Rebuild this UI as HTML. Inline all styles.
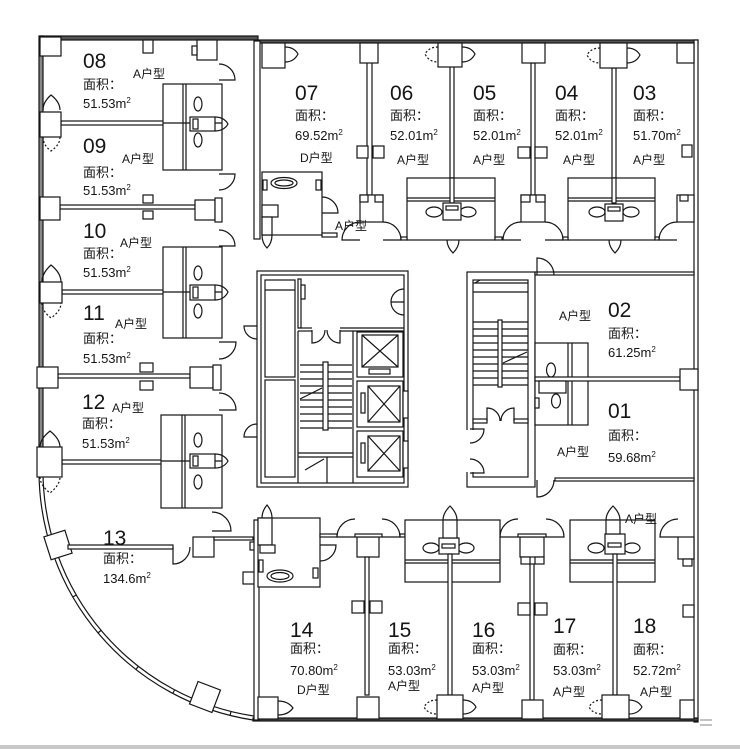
<!DOCTYPE html>
<html><head><meta charset="utf-8">
<style>
html,body{margin:0;padding:0;background:#fff;}
svg{display:block;}
text{font-family:"Liberation Sans","Noto Sans CJK SC",sans-serif;fill:#151515;}
.n{font-size:21px;}
.c{font-size:13px;}
.t{font-size:12px;}
</style></head><body>
<svg width="740" height="749" viewBox="0 0 740 749" xmlns="http://www.w3.org/2000/svg">
<rect width="740" height="749" fill="#fff"/>
<rect x="0" y="745" width="740" height="4" fill="#c8c8c8"/>

<g stroke="#151515" stroke-width="1.2" fill="#fff">
<!-- exterior walls -->
<rect x="40" y="36" width="218" height="4" fill="#555"/>
<rect x="255" y="40" width="443" height="3" fill="#555"/>
<rect x="39" y="36" width="4" height="435" fill="#888"/>
<rect x="694" y="40" width="4" height="682"/>
<rect x="253" y="718" width="445" height="3" fill="#444"/>
<path d="M39 471 A252 252 0 0 0 253 720" fill="none"/>
<path d="M43 471 A248 248 0 0 0 253.6 716" fill="none"/>
<path d="M72.8 597 L76.2 595 M97.9 633 L101 630.4 M135.8 669.6 L138.3 666.4 M172.7 693.5 L174.6 690 M230 715.5 L231 711.6" fill="none"/>
<rect x="-11" y="-12" width="22" height="24" transform="translate(58,545) rotate(-17.6)"/>
<rect x="-12" y="-12" width="24" height="24" transform="translate(205,697) rotate(20.8)"/>

<!-- left wing columns & partitions -->
<rect x="40" y="37" width="21" height="19"/>
<rect x="197" y="40" width="20" height="20"/>
<rect x="143" y="40" width="10" height="13"/>
<rect x="192" y="46" width="5" height="9"/>
<rect x="61" y="121" width="104" height="4"/>
<rect x="40" y="112" width="21" height="25"/>
<rect x="60" y="205" width="135" height="4"/>
<rect x="40" y="197" width="20" height="23"/>
<rect x="195" y="200" width="20" height="20"/>
<rect x="215" y="198" width="7" height="24"/>
<rect x="143" y="195" width="10" height="8"/>
<rect x="143" y="211" width="10" height="8"/>
<rect x="62" y="290" width="103" height="4"/>
<rect x="40" y="282" width="22" height="21"/>
<rect x="58" y="374" width="132" height="4"/>
<rect x="37" y="367" width="21" height="21"/>
<rect x="190" y="367" width="23" height="21"/>
<rect x="213" y="365" width="8" height="25"/>
<rect x="140" y="363" width="13" height="9"/>
<rect x="140" y="381" width="13" height="9"/>
<rect x="62" y="460" width="103" height="4"/>
<rect x="37" y="447" width="25" height="30"/>
<!-- 13 -->
<rect x="68" y="545" width="105" height="4"/>
<rect x="193" y="537" width="21" height="20"/>
<rect x="214" y="537" width="39" height="3"/>
<rect x="250" y="542" width="6" height="8"/>
<rect x="243" y="572" width="12" height="12"/>
<path d="M173 547 L173 564 A17 17 0 0 0 190 547" fill="none"/>

<!-- left wing bathrooms -->
<g>
<rect x="163" y="84" width="59" height="86"/>
<line x1="183" y1="84" x2="183" y2="170"/><line x1="186" y1="84" x2="186" y2="170"/>
<line x1="163" y1="123" x2="222" y2="123"/>
<ellipse cx="198" cy="104" rx="4" ry="7"/><ellipse cx="198" cy="140" rx="4" ry="7"/>
<rect x="190" y="117" width="25" height="14"/><rect x="193" y="119" width="5" height="10"/>
<path d="M215 117 Q224 117 228 124 Q224 131 215 131" fill="none"/>
</g>
<g>
<rect x="163" y="247" width="59" height="91"/>
<line x1="183" y1="247" x2="183" y2="338"/><line x1="186" y1="247" x2="186" y2="338"/>
<line x1="163" y1="292" x2="222" y2="292"/>
<ellipse cx="198" cy="273" rx="4" ry="7"/><ellipse cx="198" cy="311" rx="4" ry="7"/>
<rect x="190" y="285" width="25" height="15"/><rect x="193" y="287" width="5" height="11"/>
<path d="M215 285 Q224 285 228 292 Q224 300 215 300" fill="none"/>
</g>
<g>
<rect x="161" y="415" width="61" height="93"/>
<line x1="182" y1="415" x2="182" y2="508"/><line x1="185" y1="415" x2="185" y2="508"/>
<line x1="161" y1="461" x2="222" y2="461"/>
<ellipse cx="198" cy="440" rx="4" ry="7"/><ellipse cx="198" cy="482" rx="4" ry="7"/>
<rect x="190" y="454" width="25" height="14"/><rect x="193" y="456" width="5" height="10"/>
<path d="M215 454 Q224 454 228 461 Q224 468 215 468" fill="none"/>
</g>

<g fill="none">
<!-- left wing doors -->
<path d="M219 64 A16 16 0 0 1 235 80 L219 80"/>
<path d="M219 174 L235 174 A16 16 0 0 1 219 190"/>
<path d="M219 230 A16 16 0 0 1 235 246 L219 246"/>
<path d="M219 342 L236 342 A17 17 0 0 1 219 359"/>
<path d="M219 393 A17 17 0 0 1 236 410 L219 410"/>
<path d="M212 512 A19 19 0 0 1 231 531 L212 531"/>
<!-- left wall windows -->
<path d="M43 110 Q43 102 51 95 Q60 102 60 110"/>
<path d="M43 137 Q43 145 51 151 Q60 145 60 137" stroke-dasharray="2 2"/>
<path d="M42 282 Q42 273 51 265 Q61 273 61 282"/>
<path d="M42 303 Q42 311 51 318 Q61 311 61 303" stroke-dasharray="2 2"/>
<path d="M40 447 Q40 439 50 431 Q60 439 60 447"/>
<path d="M40 477 Q40 485 50 493 Q60 485 60 477" stroke-dasharray="2 2"/>
</g>

<!-- top units -->
<rect x="254" y="41" width="6" height="198"/>
<rect x="262" y="43" width="23" height="25"/>
<path d="M285 47 Q294 47 298 54 Q294 62 285 62" fill="none"/>
<rect x="367" y="62" width="5" height="133"/>
<rect x="360" y="43" width="18" height="20"/>
<rect x="357" y="146" width="11" height="12"/><rect x="373" y="146" width="11" height="12"/>
<rect x="360" y="195" width="23" height="27"/>
<rect x="360" y="195" width="8" height="7"/><rect x="375" y="195" width="8" height="7"/>
<!-- 07 bathroom -->
<rect x="262" y="172" width="60" height="63"/>
<ellipse cx="284" cy="183" rx="13" ry="5.5"/><ellipse cx="284" cy="183" rx="9" ry="3"/>
<rect x="262" y="205" width="16" height="12"/>
<rect x="262" y="217" width="10" height="18"/>
<rect x="316" y="180" width="5" height="10"/>
<rect x="263" y="180" width="4" height="10"/>
<rect x="322" y="233" width="15" height="4"/>
<path d="M262 235 Q262 243 267 248 Q272 243 272 235" fill="none"/>
<path d="M322 197 A16 16 0 0 1 338 213 L322 213" fill="none"/>
<!-- 06/05 -->
<rect x="450" y="66" width="4" height="112"/>
<rect x="438" y="43" width="24" height="24"/>
<path d="M438 47 Q429 47 425 54 Q429 62 438 62" fill="none" stroke-dasharray="2 2"/>
<path d="M462 47 Q471 47 475 54 Q471 62 462 62" fill="none"/>
<rect x="407" y="178" width="88" height="62"/>
<line x1="407" y1="198" x2="495" y2="198"/><line x1="407" y1="201" x2="495" y2="201"/>
<rect x="450" y="178" width="4" height="25"/>
<ellipse cx="434" cy="212" rx="8" ry="5"/><ellipse cx="468" cy="212" rx="8" ry="5"/>
<rect x="443" y="203" width="18" height="17"/><rect x="446" y="206" width="12" height="4"/>
<path d="M447 240 Q447 247 453 253 Q459 247 459 240" fill="none"/>
<!-- 05/04 -->
<rect x="531" y="63" width="4" height="132"/>
<rect x="522" y="43" width="23" height="20"/>
<rect x="518" y="147" width="12" height="11"/><rect x="535" y="147" width="12" height="11"/>
<rect x="521" y="195" width="24" height="27"/>
<rect x="521" y="195" width="9" height="7"/><rect x="536" y="195" width="9" height="7"/>
<!-- 04/03 -->
<rect x="612" y="68" width="4" height="110"/>
<rect x="600" y="43" width="27" height="25"/>
<path d="M600 48 Q591 48 587 55 Q591 63 600 63" fill="none" stroke-dasharray="2 2"/>
<path d="M627 48 Q636 48 640 55 Q636 63 627 63" fill="none"/>
<rect x="568" y="178" width="87" height="62"/>
<line x1="568" y1="198" x2="655" y2="198"/><line x1="568" y1="201" x2="655" y2="201"/>
<rect x="612" y="178" width="4" height="25"/>
<ellipse cx="597" cy="212" rx="8" ry="5"/><ellipse cx="631" cy="212" rx="8" ry="5"/>
<rect x="605" y="204" width="18" height="17"/><rect x="608" y="207" width="12" height="4"/>
<path d="M609 240 Q609 247 615 253 Q621 247 621 240" fill="none"/>
<!-- right column top -->
<rect x="677" y="43" width="17" height="20"/>
<rect x="682" y="145" width="10" height="12"/>
<rect x="677" y="195" width="17" height="27"/>
<rect x="680" y="195" width="8" height="6"/>
<g fill="none">
<path d="M360 222 A18 18 0 0 0 342 240 L360 240"/>
<path d="M383 222 A18 18 0 0 1 401 240 L383 240"/>
<path d="M521 222 A18 18 0 0 0 503 240 L521 240"/>
<path d="M545 222 A18 18 0 0 1 563 240 L545 240"/>
<path d="M677 222 A18 18 0 0 0 659 240 L677 240"/>
</g>
<rect x="401" y="237" width="6" height="3"/>
<rect x="495" y="237" width="7" height="3"/>
<rect x="563" y="237" width="5" height="3"/>
<rect x="655" y="237" width="4" height="3"/>

<!-- left core -->
<rect x="257" y="271" width="151" height="216"/>
<rect x="261" y="275" width="143" height="208"/>
<rect x="265" y="280" width="30" height="97"/>
<line x1="265" y1="290" x2="295" y2="290"/>
<rect x="265" y="380" width="30" height="97"/>
<rect x="298" y="279" width="3" height="49"/>
<line x1="298" y1="328" x2="312" y2="328"/><line x1="298" y1="331" x2="312" y2="331"/>
<line x1="340" y1="328" x2="404" y2="328"/><line x1="340" y1="331" x2="404" y2="331"/>
<rect x="301" y="285" width="4" height="14"/>
<g fill="none">
<path d="M312 330 L312 343 A13 13 0 0 0 325 330"/>
<path d="M340 330 L340 343 A13 13 0 0 1 327 330"/>
<path d="M404 289 A13 13 0 0 0 391 302 L404 302"/>
<path d="M404 315 A13 13 0 0 1 391 302"/>
<path d="M257 326 L244 326 A13 13 0 0 0 257 339"/>
<path d="M257 437 L244 437 A13 13 0 0 1 257 424"/>
</g>
<line x1="298" y1="331" x2="298" y2="483"/>
<line x1="353" y1="331" x2="353" y2="483"/>
<g>
<line x1="300" y1="365" x2="352" y2="365"/><line x1="300" y1="372" x2="352" y2="372"/>
<line x1="300" y1="379" x2="352" y2="379"/><line x1="300" y1="386" x2="352" y2="386"/>
<line x1="300" y1="393" x2="352" y2="393"/><line x1="300" y1="400" x2="352" y2="400"/>
<line x1="300" y1="407" x2="352" y2="407"/><line x1="300" y1="414" x2="352" y2="414"/>
<line x1="300" y1="421" x2="352" y2="421"/><line x1="300" y1="428" x2="352" y2="428"/>
</g>
<rect x="323" y="362" width="5" height="68"/>
<line x1="300" y1="399" x2="322" y2="388"/>
<line x1="298" y1="453" x2="353" y2="453"/><line x1="298" y1="457" x2="353" y2="457"/>
<line x1="327" y1="457" x2="327" y2="483"/>
<line x1="305" y1="470" x2="324" y2="459"/>
<!-- elevators -->
<rect x="357" y="332" width="46" height="45"/>
<rect x="362" y="335" width="36" height="32"/>
<path d="M362 335 L398 367 M398 335 L362 367" fill="none"/>
<rect x="369" y="369" width="21" height="5"/>
<rect x="357" y="381" width="46" height="46"/>
<rect x="368" y="386" width="32" height="36"/>
<path d="M368 386 L400 422 M400 386 L368 422" fill="none"/>
<rect x="361" y="393" width="4" height="20"/>
<rect x="403" y="391" width="5" height="27"/>
<rect x="357" y="431" width="46" height="46"/>
<rect x="368" y="436" width="32" height="35"/>
<path d="M368 436 L400 471 M400 436 L368 471" fill="none"/>
<rect x="361" y="443" width="4" height="20"/>
<rect x="403" y="441" width="5" height="27"/>

<!-- right core -->
<rect x="467" y="272" width="68" height="215"/>
<rect x="473" y="280" width="55" height="197"/>
<line x1="473" y1="283" x2="528" y2="283"/><line x1="473" y1="292" x2="528" y2="292"/>
<line x1="475" y1="283" x2="480" y2="280"/>
<g>
<line x1="473" y1="322" x2="528" y2="322"/><line x1="473" y1="329" x2="528" y2="329"/>
<line x1="473" y1="336" x2="528" y2="336"/><line x1="473" y1="343" x2="528" y2="343"/>
<line x1="473" y1="350" x2="528" y2="350"/><line x1="473" y1="357" x2="528" y2="357"/>
<line x1="473" y1="364" x2="528" y2="364"/><line x1="473" y1="371" x2="528" y2="371"/>
<line x1="473" y1="378" x2="528" y2="378"/><line x1="473" y1="385" x2="528" y2="385"/>
</g>
<rect x="498" y="320" width="4" height="67"/>
<line x1="503" y1="363" x2="527" y2="352"/>
<rect x="473" y="419" width="14" height="4"/>
<rect x="514" y="419" width="14" height="4"/>
<path d="M487 421 L487 408 A13 13 0 0 1 500 421" fill="none"/>
<path d="M514 421 L514 408 A13 13 0 0 0 501 421" fill="none"/>
<rect x="465" y="430" width="9" height="42" stroke="none"/>
<path d="M470 429 L484 429 A14 14 0 0 1 470 443" fill="none"/>
<path d="M470 473 L484 473 A14 14 0 0 0 470 459" fill="none"/>

<!-- units 02 / 01 -->
<rect x="535" y="272" width="159" height="3"/>
<rect x="555" y="478" width="139" height="3"/>
<rect x="535" y="343" width="53" height="82"/>
<line x1="568" y1="343" x2="568" y2="425"/><line x1="572" y1="343" x2="572" y2="425"/>
<rect x="535" y="377" width="145" height="4"/>
<ellipse cx="551" cy="370" rx="4.5" ry="7"/>
<ellipse cx="556" cy="401" rx="4.5" ry="7"/>
<rect x="539" y="381" width="27" height="12"/>
<rect x="535" y="398" width="4" height="10"/>
<rect x="680" y="369" width="18" height="21"/>
<path d="M537 275 L537 258 A17 17 0 0 1 554 275" fill="none"/>
<path d="M537 480 L537 497 A17 17 0 0 0 554 480" fill="none"/>

<!-- bottom units -->
<rect x="254" y="520" width="5" height="200"/>
<rect x="258" y="518" width="62" height="69"/>
<rect x="258" y="518" width="14" height="27"/>
<path d="M262 518 Q262 511 267 505 Q272 511 272 518" fill="none"/>
<rect x="260" y="545" width="15" height="8"/>
<ellipse cx="280" cy="576" rx="13" ry="6"/><ellipse cx="280" cy="576" rx="9" ry="3.5"/>
<rect x="313" y="568" width="5" height="10"/>
<rect x="259" y="560" width="4" height="12"/>
<rect x="320" y="534" width="17" height="3"/>
<path d="M320 545 L336 545 A16 16 0 0 1 320 561" fill="none"/>
<rect x="357" y="537" width="22" height="20"/>
<rect x="355" y="534" width="27" height="3"/>
<rect x="365" y="557" width="4" height="138"/>
<rect x="352" y="601" width="12" height="12"/><rect x="370" y="601" width="12" height="12"/>
<rect x="357" y="697" width="22" height="22"/>
<rect x="258" y="697" width="20" height="22"/>
<path d="M278 701 Q288 701 293 708 Q288 715 278 715" fill="none"/>
<rect x="400" y="534" width="5" height="3"/>
<!-- 15/16 bath -->
<rect x="405" y="520" width="95" height="62"/>
<line x1="405" y1="560" x2="500" y2="560"/><line x1="405" y1="563" x2="500" y2="563"/>
<ellipse cx="431" cy="548" rx="8" ry="5"/><ellipse cx="466" cy="548" rx="8" ry="5"/>
<rect x="439" y="538" width="20" height="16"/><rect x="442" y="544" width="13" height="4"/>
<rect x="443" y="520" width="14" height="18"/>
<path d="M443 520 Q443 513 450 506 Q457 513 457 520" fill="none"/>
<rect x="448" y="554" width="4" height="141"/>
<rect x="437" y="695" width="26" height="24"/>
<path d="M437 700 Q428 700 424 707 Q428 714 437 714" fill="none" stroke-dasharray="2 2"/>
<path d="M463 700 Q472 700 476 707 Q472 714 463 714" fill="none"/>
<!-- 16/17 -->
<rect x="520" y="537" width="24" height="20"/>
<rect x="518" y="534" width="28" height="3"/>
<rect x="521" y="557" width="9" height="7"/><rect x="535" y="557" width="9" height="7"/>
<rect x="530" y="564" width="4" height="136"/>
<rect x="518" y="603" width="12" height="12"/><rect x="535" y="603" width="12" height="12"/>
<rect x="522" y="700" width="21" height="19"/>
<!-- 17/18 bath -->
<rect x="570" y="520" width="85" height="62"/>
<line x1="570" y1="560" x2="655" y2="560"/><line x1="570" y1="563" x2="655" y2="563"/>
<ellipse cx="596" cy="548" rx="8" ry="5"/><ellipse cx="632" cy="548" rx="8" ry="5"/>
<rect x="605" y="534" width="20" height="20"/><rect x="608" y="543" width="13" height="4"/>
<rect x="606" y="520" width="14" height="14"/>
<path d="M606 520 Q606 513 613 506 Q620 513 620 520" fill="none"/>
<rect x="613" y="554" width="4" height="141"/>
<rect x="602" y="695" width="27" height="24"/>
<path d="M602 700 Q593 700 589 707 Q593 714 602 714" fill="none" stroke-dasharray="2 2"/>
<path d="M629 700 Q638 700 642 707 Q638 714 629 714" fill="none"/>
<!-- right side bottom -->
<rect x="678" y="537" width="16" height="22"/>
<rect x="683" y="559" width="9" height="7"/>
<rect x="683" y="605" width="11" height="12"/>
<rect x="680" y="700" width="14" height="19"/>
<g fill="none">
<path d="M355 519 A18 18 0 0 0 337 537 L355 537"/>
<path d="M382 519 A18 18 0 0 1 400 537 L382 537"/>
<path d="M518 519 A18 18 0 0 0 500 537 L518 537"/>
<path d="M546 519 A18 18 0 0 1 564 537 L546 537"/>
<path d="M678 519 A18 18 0 0 0 660 537 L678 537"/>
</g>
<line x1="700" y1="720" x2="712" y2="720" stroke="#999"/>
<line x1="700" y1="725" x2="712" y2="725" stroke="#999"/>
</g>

<!-- labels -->
<g>
<text class="n" x="83" y="68">08</text>
<text class="t" x="133" y="78">A户型</text>
<text class="c" x="83" y="89">面积：</text>
<text class="c" x="83" y="108">51.53m<tspan font-size="8" dy="-5">2</tspan></text>

<text class="n" x="83" y="153">09</text>
<text class="t" x="122" y="163">A户型</text>
<text class="c" x="83" y="177">面积：</text>
<text class="c" x="83" y="195">51.53m<tspan font-size="8" dy="-5">2</tspan></text>

<text class="n" x="83" y="238">10</text>
<text class="t" x="120" y="247">A户型</text>
<text class="c" x="83" y="258">面积：</text>
<text class="c" x="83" y="277">51.53m<tspan font-size="8" dy="-5">2</tspan></text>

<text class="n" x="83" y="320">11</text>
<text class="t" x="115" y="328">A户型</text>
<text class="c" x="83" y="343">面积：</text>
<text class="c" x="83" y="363">51.53m<tspan font-size="8" dy="-5">2</tspan></text>

<text class="n" x="82" y="409">12</text>
<text class="t" x="112" y="412">A户型</text>
<text class="c" x="82" y="428">面积：</text>
<text class="c" x="82" y="448">51.53m<tspan font-size="8" dy="-5">2</tspan></text>

<text class="n" x="103" y="545">13</text>
<text class="c" x="103" y="563">面积：</text>
<text class="c" x="103" y="583">134.6m<tspan font-size="8" dy="-5">2</tspan></text>

<text class="n" x="295" y="100">07</text>
<text class="c" x="295" y="120">面积：</text>
<text class="c" x="295" y="140">69.52m<tspan font-size="8" dy="-5">2</tspan></text>
<text class="t" x="300" y="162">D户型</text>

<text class="n" x="390" y="100">06</text>
<text class="c" x="390" y="120">面积：</text>
<text class="c" x="390" y="140">52.01m<tspan font-size="8" dy="-5">2</tspan></text>
<text class="t" x="397" y="164">A户型</text>

<text class="n" x="473" y="100">05</text>
<text class="c" x="473" y="120">面积：</text>
<text class="c" x="473" y="140">52.01m<tspan font-size="8" dy="-5">2</tspan></text>
<text class="t" x="473" y="164">A户型</text>

<text class="n" x="555" y="100">04</text>
<text class="c" x="555" y="120">面积：</text>
<text class="c" x="555" y="140">52.01m<tspan font-size="8" dy="-5">2</tspan></text>
<text class="t" x="563" y="164">A户型</text>

<text class="n" x="633" y="100">03</text>
<text class="c" x="633" y="120">面积：</text>
<text class="c" x="633" y="140">51.70m<tspan font-size="8" dy="-5">2</tspan></text>
<text class="t" x="633" y="164">A户型</text>

<text class="t" x="335" y="230">A户型</text>

<text class="n" x="608" y="317">02</text>
<text class="t" x="559" y="320">A户型</text>
<text class="c" x="608" y="338">面积：</text>
<text class="c" x="608" y="357">61.25m<tspan font-size="8" dy="-5">2</tspan></text>

<text class="n" x="608" y="418">01</text>
<text class="c" x="608" y="440">面积：</text>
<text class="c" x="608" y="462">59.68m<tspan font-size="8" dy="-5">2</tspan></text>
<text class="t" x="557" y="456">A户型</text>

<text class="n" x="290" y="637">14</text>
<text class="c" x="290" y="653">面积：</text>
<text class="c" x="290" y="675">70.80m<tspan font-size="8" dy="-5">2</tspan></text>
<text class="t" x="297" y="694">D户型</text>

<text class="n" x="388" y="637">15</text>
<text class="c" x="388" y="653">面积：</text>
<text class="c" x="388" y="675">53.03m<tspan font-size="8" dy="-5">2</tspan></text>
<text class="t" x="388" y="690">A户型</text>

<text class="n" x="472" y="637">16</text>
<text class="c" x="472" y="653">面积：</text>
<text class="c" x="472" y="675">53.03m<tspan font-size="8" dy="-5">2</tspan></text>
<text class="t" x="472" y="692">A户型</text>

<text class="n" x="553" y="633">17</text>
<text class="c" x="553" y="654">面积：</text>
<text class="c" x="553" y="675">53.03m<tspan font-size="8" dy="-5">2</tspan></text>
<text class="t" x="553" y="696">A户型</text>

<text class="n" x="633" y="633">18</text>
<text class="c" x="633" y="654">面积：</text>
<text class="c" x="633" y="675">52.72m<tspan font-size="8" dy="-5">2</tspan></text>
<text class="t" x="640" y="696">A户型</text>

<text class="t" x="625" y="523">A户型</text>
</g>
</svg>
</body></html>
